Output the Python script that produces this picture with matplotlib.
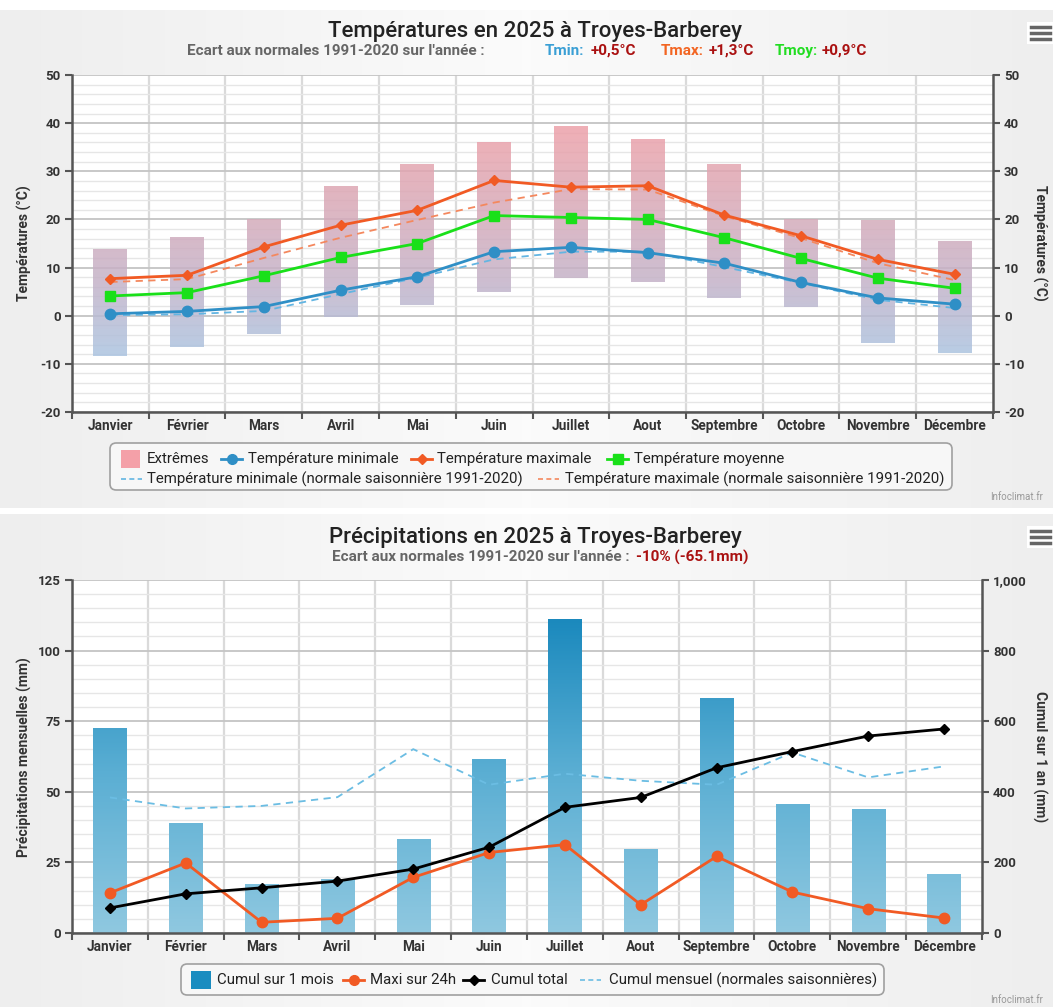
import numpy as np
import matplotlib
matplotlib.use("Agg")
import matplotlib.pyplot as plt
from matplotlib.colors import LinearSegmentedColormap, Normalize
from matplotlib.lines import Line2D
from matplotlib.patches import Rectangle, FancyBboxPatch
from matplotlib.ticker import MultipleLocator, FuncFormatter

plt.rcParams['font.family'] = ['Roboto', 'DejaVu Sans']
plt.rcParams['axes.unicode_minus'] = False

# data
months = ['Janvier', 'Février', 'Mars', 'Avril', 'Mai', 'Juin', 'Juillet', 'Aout',
          'Septembre', 'Octobre', 'Novembre', 'Décembre']

ext_low = [-8.3, -6.6, -3.9, -0.2, 2.2, 5.0, 7.9, 6.9, 3.7, 1.8, -5.7, -7.7]
ext_high = [13.8, 16.1, 19.9, 27.0, 31.3, 36.1, 39.4, 36.6, 31.4, 19.9, 19.7, 15.4]
tmin = [0.4, 0.9, 1.9, 5.3, 8.1, 13.3, 14.2, 13.1, 10.9, 6.9, 3.7, 2.4]
tmax = [7.7, 8.4, 14.3, 18.8, 21.9, 28.1, 26.7, 27.0, 20.9, 16.6, 11.7, 8.6]
tmoy = [4.1, 4.8, 8.3, 12.1, 15.0, 20.8, 20.4, 20.0, 16.2, 11.9, 7.8, 5.7]
norm_min = [0.1, 0.3, 1.0, 4.5, 7.9, 11.7, 13.3, 13.3, 10.1, 6.8, 3.3, 1.6]
norm_max = [7.0, 7.6, 12.0, 16.2, 19.9, 23.5, 26.3, 26.2, 20.7, 16.1, 10.9, 7.4]

rain = [72.5, 38.7, 17.1, 18.9, 33.0, 61.6, 111.1, 29.5, 82.9, 45.4, 43.6, 20.6]
maxi24 = [14.2, 24.8, 3.8, 5.2, 19.7, 28.5, 31.3, 10.0, 27.1, 14.5, 8.6, 5.3]
cumul = [71, 111, 128, 147, 181, 243, 356, 384, 468, 514, 558, 578]
rain_norm = [48.0, 44.1, 45.0, 48.1, 65.1, 52.5, 56.4, 53.9, 52.5, 63.9, 55.1, 59.0]

W, H = 1053, 1007
def fx(x):
    return x / W
def fy(y):
    return 1 - y / H

fig = plt.figure(figsize=(W / 100, H / 100), dpi=100, facecolor='white')

# panel backgrounds (light gray gradient)
grad = np.abs(np.linspace(-1, 1, 256))[None, :]
bg_cmap = LinearSegmentedColormap.from_list('bg', ['#fbfbfb', '#eeeeee'])
for y0, y1 in [(10, 508), (514, 1007)]:
    bax = fig.add_axes([0, fy(y1), 1, (y1 - y0) / H], zorder=-10)
    bax.imshow(grad, aspect='auto', cmap=bg_cmap, extent=[0, 1, 0, 1])
    bax.set_axis_off()

x = np.arange(12)
bw = 0.44
dark = '#555555'
txt = '#333333'
tick_fs = 9.5
leg_fs = 10.8
sub_fs = 11

def style_axes(ax, minor):
    ax.set_facecolor('white')
    ax.set_xlim(-0.5, 11.5)
    ax.set_xticks(np.arange(-0.5, 12, 1))
    ax.set_xticklabels([])
    ax.set_xticks(x, minor=True)
    ax.set_xticklabels(months, minor=True, fontsize=9.8, fontweight='bold', color=txt)
    ax.tick_params(axis='x', which='major', length=5, width=1.5, color=dark)
    ax.tick_params(axis='x', which='minor', length=0, pad=5)
    ax.yaxis.set_minor_locator(MultipleLocator(minor))
    ax.tick_params(axis='y', which='major', length=5, width=1.5, color=dark,
                   labelsize=tick_fs, labelcolor=txt, pad=3)
    ax.tick_params(axis='y', which='minor', length=0)
    for lab in ax.get_yticklabels():
        lab.set_fontweight('bold')
    ax.grid(axis='y', which='major', color='#c4c4c4', lw=1.3, zorder=0)
    ax.grid(axis='y', which='minor', color='#e6e6e6', lw=1.0, zorder=0)
    for b in np.arange(0.5, 11.5, 1):
        ax.axvline(b, color='#dadada', lw=1.6, zorder=0)
    for s in ['top', 'right']:
        ax.spines[s].set_visible(False)
    for s in ['left', 'bottom']:
        ax.spines[s].set_color(dark)
        ax.spines[s].set_linewidth(1.8)
    ax.set_axisbelow(True)

def style_right(axr):
    axr.tick_params(axis='y', length=5, width=1.5, color=dark, labelsize=tick_fs,
                    labelcolor=txt, pad=3)
    for lab in axr.get_yticklabels():
        lab.set_fontweight('bold')
    for s in ['top', 'left', 'bottom']:
        axr.spines[s].set_visible(False)
    axr.spines['right'].set_color(dark)
    axr.spines['right'].set_linewidth(1.8)

def grad_bar(ax, xc, lo, hi, cmap, norm, alpha=1.0):
    vals = np.linspace(hi, lo, 80).reshape(-1, 1)
    ax.imshow(vals, cmap=cmap, norm=norm, aspect='auto', alpha=alpha,
              extent=[xc - bw / 2, xc + bw / 2, lo, hi], zorder=1, interpolation='bilinear')

# ---------------- Temperatures ----------------
ax = fig.add_axes([fx(72), fy(412), (993 - 72) / W, (412 - 75) / H])
ax.set_ylim(-20, 50)
ax.set_yticks(np.arange(-20, 51, 10))
style_axes(ax, 2)

ext_cmap = LinearSegmentedColormap.from_list('ext', ['#a9c6e3', '#c4b3c9', '#d9a9b7', '#eea1a9'])
ext_norm = Normalize(-10, 40)
for i in range(12):
    grad_bar(ax, x[i], ext_low[i], ext_high[i], ext_cmap, ext_norm, alpha=0.85)

c_min, c_max, c_moy = '#2f8fc6', '#f15a24', '#19e019'
ax.plot(x, norm_min, color='#63b5e2', lw=1.3, ls=(0, (4, 3)), zorder=3)
ax.plot(x, norm_max, color='#f4885e', lw=1.3, ls=(0, (4, 3)), zorder=3)
ax.plot(x, tmin, color=c_min, lw=2, marker='o', ms=7.5, zorder=4)
ax.plot(x, tmax, color=c_max, lw=2, marker='D', ms=5.5, zorder=4)
ax.plot(x, tmoy, color=c_moy, lw=2, marker='s', ms=7.5, zorder=4)
ax.set_xlim(-0.5, 11.5)
ax.set_ylim(-20, 50)

axr = ax.twinx()
axr.set_ylim(-20, 50)
axr.set_yticks(np.arange(-20, 51, 10))
style_right(axr)

fig.text(fx(24), fy(243), 'Températures (°C)', rotation=90, ha='center', va='center',
         fontsize=10, fontweight='bold', color=txt)
fig.text(fx(1040), fy(243), 'Températures (°C)', rotation=270, ha='center', va='center',
         fontsize=10, fontweight='bold', color=txt)

fig.text(0.508, fy(31), 'Températures en 2025 à Troyes-Barberey', ha='center', va='center',
         fontsize=16, color='#222222', fontweight='medium')
sub_y = fy(51)
fig.text(fx(187), sub_y, "Ecart aux normales 1991-2020 sur l'année :", ha='left', va='center',
         fontsize=sub_fs, color='#666666', fontweight='bold')
for xp, s, c in [(545, 'Tmin:', '#3a9fd5'), (591, '+0,5°C', '#aa1111'),
                 (661, 'Tmax:', '#f26522'), (709, '+1,3°C', '#aa1111'),
                 (775, 'Tmoy:', '#22dd22'), (822, '+0,9°C', '#aa1111')]:
    fig.text(fx(xp), sub_y, s, ha='left', va='center', fontsize=sub_fs, color=c, fontweight='bold')

# legend 1
fig.add_artist(FancyBboxPatch((fx(110), fy(490)), fx(952) - fx(110), fy(443) - fy(490),
                              boxstyle='round,pad=0,rounding_size=0.006', transform=fig.transFigure,
                              facecolor='#f7f7f7', edgecolor='#a0a0a0', lw=1.2))
def leg_line(x0, y, color, marker=None, ms=7, ls='-'):
    fig.add_artist(Line2D([fx(x0), fx(x0 + 21)], [fy(y), fy(y)], transform=fig.transFigure,
                          color=color, lw=2 if ls == '-' else 1.2, ls=ls))
    if marker:
        fig.add_artist(Line2D([fx(x0 + 10.5)], [fy(y)], transform=fig.transFigure,
                              color=color, marker=marker, ms=ms, ls='none'))
def leg_text(x0, y, s):
    fig.text(fx(x0), fy(y), s, ha='left', va='center', fontsize=leg_fs, color='#222222')

r1, r2 = 459, 479
fig.add_artist(Rectangle((fx(121), fy(r1 + 9)), 19 / W, 18 / H, transform=fig.transFigure,
                         facecolor='#f4a0a8', edgecolor='none'))
leg_text(147, r1, 'Extrêmes')
leg_line(221, r1, c_min, 'o', 7)
leg_text(248, r1, 'Température minimale')
leg_line(411, r1, c_max, 'D', 5)
leg_text(437, r1, 'Température maximale')
leg_line(607, r1, c_moy, 's', 7)
leg_text(634, r1, 'Température moyenne')
leg_line(121, r2, '#63b5e2', ls=(0, (3, 2)))
leg_text(147, r2, 'Température minimale (normale saisonnière 1991-2020)')
leg_line(538, r2, '#f4885e', ls=(0, (3, 2)))
leg_text(565, r2, 'Température maximale (normale saisonnière 1991-2020)')

# ---------------- Precipitations ----------------
bx = fig.add_axes([fx(72), fy(933), (982 - 72) / W, (933 - 580) / H])
bx.set_ylim(0, 125)
bx.set_yticks(np.arange(0, 126, 25))
style_axes(bx, 5)

rain_cmap = LinearSegmentedColormap.from_list('rain', ['#8fc8e0', '#5aaed3', '#1787bc'])
rain_norm_c = Normalize(0, 115)
for i in range(12):
    grad_bar(bx, x[i], 0, rain[i], rain_cmap, rain_norm_c)

bx.plot(x, rain_norm, color='#6bbde3', lw=1.3, ls=(0, (4, 3)), zorder=3)
bx.plot(x, maxi24, color=c_max, lw=2, marker='o', ms=7.5, zorder=4)
bx.set_xlim(-0.5, 11.5)
bx.set_ylim(0, 125)

bxr = bx.twinx()
bxr.set_ylim(0, 1000)
bxr.set_yticks(np.arange(0, 1001, 200))
bxr.yaxis.set_major_formatter(FuncFormatter(lambda v, p: f'{int(v):,}'))
bxr.plot(x, cumul, color='black', lw=2, marker='D', ms=5.5, zorder=5)
style_right(bxr)

fig.text(fx(24), fy(757), 'Précipitations mensuelles (mm)', rotation=90, ha='center', va='center',
         fontsize=10, fontweight='bold', color=txt)
fig.text(fx(1040), fy(757), 'Cumul sur 1 an (mm)', rotation=270, ha='center', va='center',
         fontsize=10, fontweight='bold', color=txt)

fig.text(0.508, fy(538), 'Précipitations en 2025 à Troyes-Barberey', ha='center', va='center',
         fontsize=16, color='#222222', fontweight='medium')
fig.text(fx(633), fy(557), "Ecart aux normales 1991-2020 sur l'année : ", ha='right', va='center',
         fontsize=sub_fs, color='#666666', fontweight='bold')
fig.text(fx(636), fy(557), '-10% (-65.1mm)', ha='left', va='center',
         fontsize=sub_fs, color='#aa1111', fontweight='bold')

# legend 2
fig.add_artist(FancyBboxPatch((fx(181), fy(995)), fx(884) - fx(181), fy(964) - fy(995),
                              boxstyle='round,pad=0,rounding_size=0.006', transform=fig.transFigure,
                              facecolor='#f7f7f7', edgecolor='#a0a0a0', lw=1.2))
r3 = 980
fig.add_artist(Rectangle((fx(191), fy(r3 + 9)), 20 / W, 18 / H, transform=fig.transFigure,
                         facecolor='#1a8cc0', edgecolor='none'))
leg_text(217, r3, 'Cumul sur 1 mois')
leg_line(343, r3, c_max, 'o', 7)
leg_text(370, r3, 'Maxi sur 24h')
leg_line(463, r3, 'black', 'D', 5)
leg_text(491, r3, 'Cumul total')
leg_line(580, r3, '#6bbde3', ls=(0, (3, 2)))
leg_text(609, r3, 'Cumul mensuel (normales saisonnières)')

# menu icons and credits
for yc in [33, 537]:
    fig.add_artist(Rectangle((fx(1027), fy(yc + 11)), 26 / W, 22 / H, transform=fig.transFigure,
                             facecolor='white', edgecolor='none'))
    for dy in (-6, 0, 6):
        fig.add_artist(Line2D([fx(1031), fx(1050)], [fy(yc + dy), fy(yc + dy)],
                              transform=fig.transFigure, color='#666666', lw=2.5))
for yc in [497, 1000]:
    fig.text(fx(990), fy(yc), 'Infoclimat.fr', ha='left', va='center', fontsize=7, color='#999999')

fig.savefig('out.png', dpi=100, facecolor=fig.get_facecolor())
